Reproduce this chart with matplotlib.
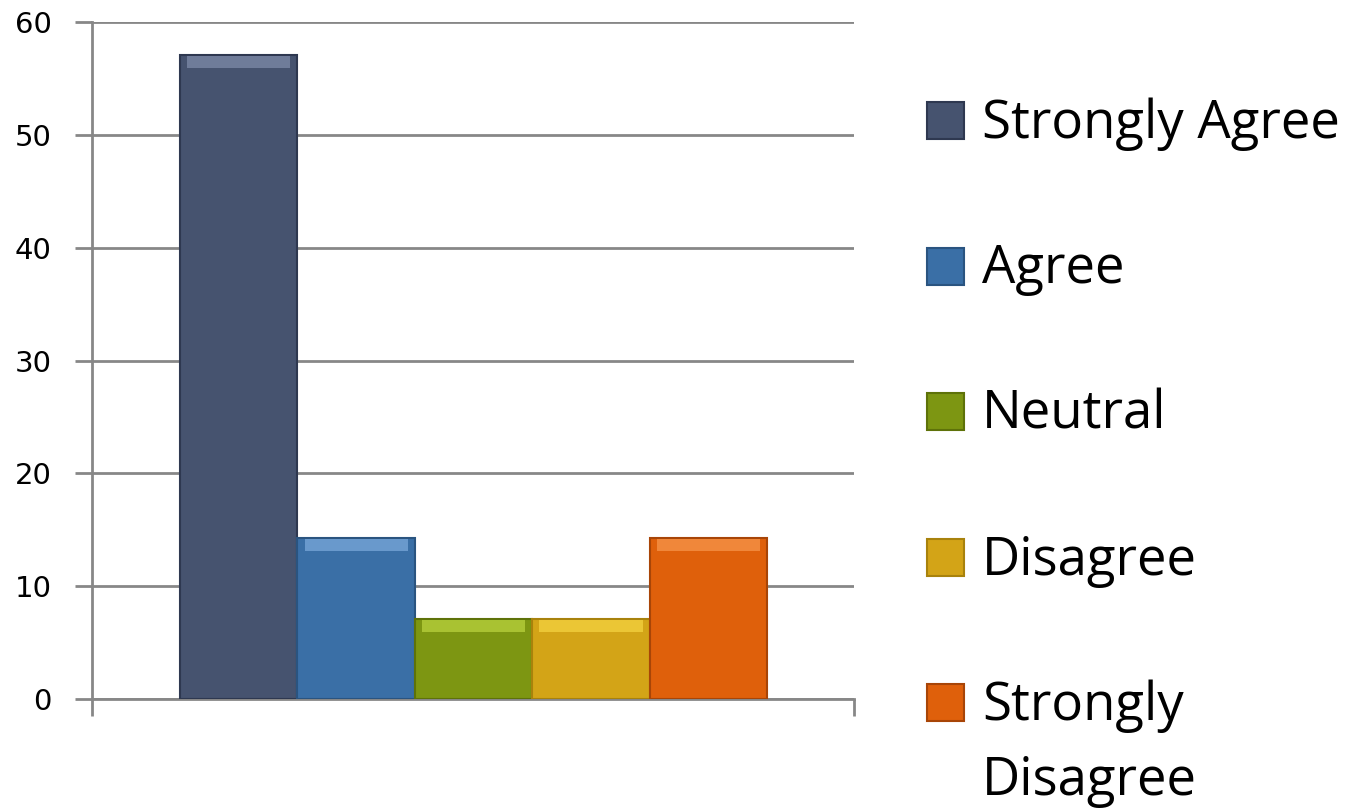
import matplotlib.pyplot as plt
from matplotlib.patches import Rectangle

# survey responses (percent)
categories = ["Strongly Agree", "Agree", "Neutral", "Disagree", "Strongly\nDisagree"]
values = [57.1, 14.3, 7.1, 7.1, 14.3]
colors = ["#46536F", "#3A6FA6", "#7D9612", "#D3A417", "#DF600B"]
edges = ["#2E3850", "#2A5480", "#5E7209", "#A8820C", "#A84507"]
tops = ["#7E8AA8", "#7AA8DA", "#B8D23E", "#F4D240", "#F7954A"]
yticks = [0, 10, 20, 30, 40, 50, 60]

plt.rcParams["font.family"] = ["Open Sans", "DejaVu Sans"]

W, H = 1351, 809
fig = plt.figure(figsize=(W / 100, H / 100), dpi=100)
ax = fig.add_axes([92 / W, 110 / H, 762 / W, 677 / H])

x = list(range(len(values)))
ax.bar(x, values, width=1.0, color=colors, edgecolor=edges, linewidth=1.5, zorder=3)
# bevel highlight along bar tops
ax.bar(x, [1.1] * len(values), bottom=[v - 1.2 for v in values], width=0.88,
       color=tops, linewidth=0, zorder=4, alpha=0.75)

ax.set_xlim(-1.25, 5.24)
ax.set_ylim(0, 60)
ax.set_yticks(yticks)
ax.set_yticklabels([str(t) for t in yticks], family="DejaVu Sans")
ax.set_xticks([-1.25, 5.24])
ax.set_xticklabels([])
ax.grid(axis="y", color="#878787", linewidth=2.0, zorder=0)
for s in ["top", "right"]:
    ax.spines[s].set_visible(False)
for s in ["left", "bottom"]:
    ax.spines[s].set_color("#878787")
    ax.spines[s].set_linewidth(2.0)
ax.tick_params(axis="y", length=12, width=2.0, color="#878787", labelsize=21, pad=17)
ax.tick_params(axis="x", length=12, width=2.0, color="#878787")

# legend drawn by hand: square + label, wrapped label continues below
step, line_step = 145.5, 75
for i, (lab, c, e) in enumerate(zip(categories, colors, edges)):
    cy = 121 + step * i
    fig.add_artist(Rectangle((927 / W, 1 - (cy + 18) / H), 37 / W, 37 / H,
                             transform=fig.transFigure, facecolor=c, edgecolor=e, linewidth=1.5))
    for j, line in enumerate(lab.split("\n")):
        fig.text(982 / W, 1 - (cy + 17 + line_step * j) / H, line, fontsize=38,
                 va="baseline", ha="left", color="black")

fig.savefig("out.png", dpi=100)
